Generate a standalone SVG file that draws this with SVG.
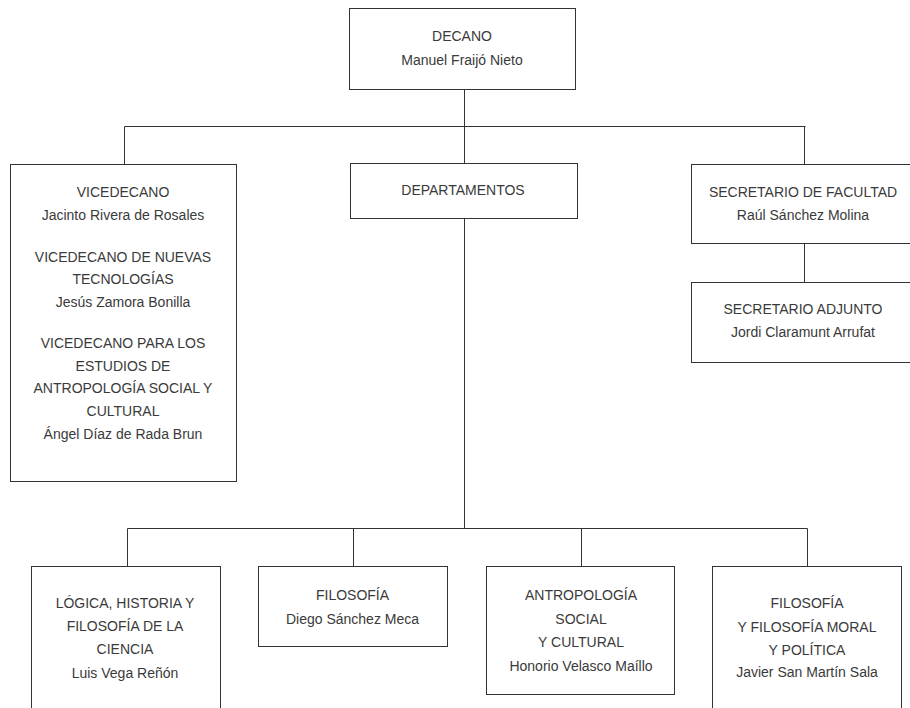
<svg xmlns="http://www.w3.org/2000/svg" width="910" height="708" viewBox="0 0 910 708">
<style>
.box{fill:#fff;stroke:#333;stroke-width:1}
.ln{fill:none;stroke:#333;stroke-width:1}
text{font-family:"Liberation Sans",Arial,sans-serif;font-size:14px;fill:#3a3a3a;text-anchor:middle}
</style>
<rect width="910" height="708" fill="#fff"/>
<g id="connectors">
<path class="ln" d="M464.5 89.5V163.5M124.5 126.5H805.5M124.5 126.5V164.5M804.5 126.5V164.5M804.5 243.5V282.5M464.5 218.5V528.5M127.5 528.5H807.5M127.5 528.5V566.5M353.5 528.5V566.5M581.5 528.5V566.5M807.5 528.5V566.5"/>
</g>
<g id="decano">
<rect class="box" x="349.5" y="8.5" width="226" height="81"/>
<text x="462" y="40.5">DECANO</text>
<text x="462" y="64.5">Manuel Fraijó Nieto</text>
</g>
<g id="vicedecanos">
<rect class="box" x="10.5" y="164.5" width="226" height="317"/>
<text x="123" y="197">VICEDECANO</text>
<text x="123" y="220">Jacinto Rivera de Rosales</text>
<text x="123" y="261.5">VICEDECANO DE NUEVAS</text>
<text x="123" y="284">TECNOLOGÍAS</text>
<text x="123" y="306.5">Jesús Zamora Bonilla</text>
<text x="123" y="348">VICEDECANO PARA LOS</text>
<text x="123" y="370.5">ESTUDIOS DE</text>
<text x="123" y="393">ANTROPOLOGÍA SOCIAL Y</text>
<text x="123" y="416">CULTURAL</text>
<text x="123" y="438.5">Ángel Díaz de Rada Brun</text>
</g>
<g id="departamentos">
<rect class="box" x="350.5" y="163.5" width="227" height="55"/>
<text x="463" y="195">DEPARTAMENTOS</text>
</g>
<g id="secretario">
<rect class="box" x="691.5" y="164.5" width="230" height="79"/>
<text x="803" y="196.5">SECRETARIO DE FACULTAD</text>
<text x="803" y="220">Raúl Sánchez Molina</text>
</g>
<g id="secretario-adjunto">
<rect class="box" x="691.5" y="282.5" width="230" height="80"/>
<text x="803" y="314">SECRETARIO ADJUNTO</text>
<text x="803" y="337">Jordi Claramunt Arrufat</text>
</g>
<g id="dep-logica">
<rect class="box" x="31.5" y="566.5" width="189" height="160"/>
<text x="125" y="607.5">LÓGICA, HISTORIA Y</text>
<text x="125" y="631">FILOSOFÍA DE LA</text>
<text x="125" y="654">CIENCIA</text>
<text x="125" y="678">Luis Vega Reñón</text>
</g>
<g id="dep-filosofia">
<rect class="box" x="258.5" y="566.5" width="189" height="80"/>
<text x="352.5" y="600">FILOSOFÍA</text>
<text x="352.5" y="623.5">Diego Sánchez Meca</text>
</g>
<g id="dep-antropologia">
<rect class="box" x="486.5" y="566.5" width="188" height="128"/>
<text x="581" y="600">ANTROPOLOGÍA</text>
<text x="581" y="623.5">SOCIAL</text>
<text x="581" y="647">Y CULTURAL</text>
<text x="581" y="671">Honorio Velasco Maíllo</text>
</g>
<g id="dep-moral">
<rect class="box" x="712.5" y="566.5" width="189" height="160"/>
<text x="807" y="608">FILOSOFÍA</text>
<text x="807" y="631.5">Y FILOSOFÍA MORAL</text>
<text x="807" y="655">Y POLÍTICA</text>
<text x="807" y="677">Javier San Martín Sala</text>
</g>
</svg>
